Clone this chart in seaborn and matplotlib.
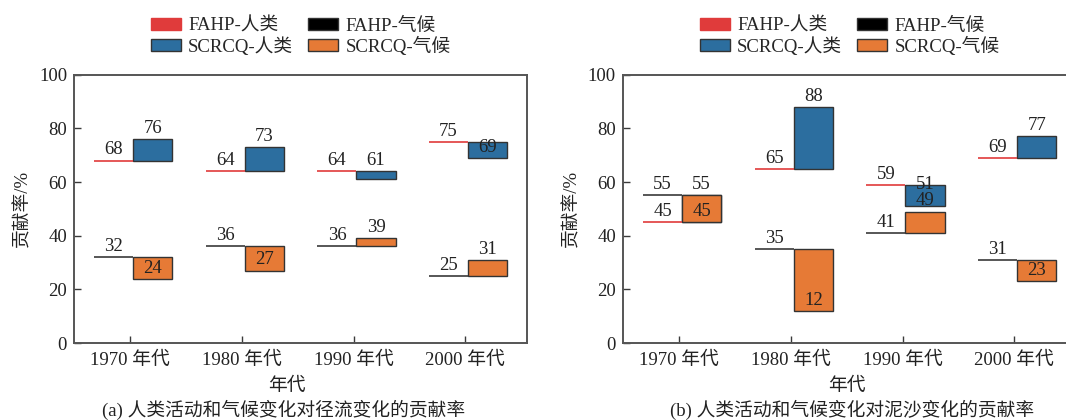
import matplotlib
matplotlib.use("Agg")
import matplotlib.pyplot as plt
from matplotlib.patches import Patch
import seaborn as sns

# ---- data -------------------------------------------------------------
decades = ["1970 年代", "1980 年代", "1990 年代", "2000 年代"]

runoff_fahp_human = [68, 64, 64, 75]
runoff_fahp_climate = [32, 36, 36, 25]
runoff_scrcq_human = [76, 73, 61, 69]
runoff_scrcq_climate = [24, 27, 39, 31]

sediment_fahp_human = [45, 65, 59, 69]
sediment_fahp_climate = [55, 35, 41, 31]
sediment_scrcq_human = [55, 88, 51, 77]
sediment_scrcq_climate = [45, 12, 49, 23]

legend_labels = ["FAHP-人类", "SCRCQ-人类", "FAHP-气候", "SCRCQ-气候"]
y_label = "贡献率/%"
x_label = "年代"
captions = ["(a) 人类活动和气候变化对径流变化的贡献率",
            "(b) 人类活动和气候变化对泥沙变化的贡献率"]

# ---- style ------------------------------------------------------------
sns.set_theme(style="ticks")
plt.rcParams["font.family"] = ["Liberation Serif", "Noto Sans CJK SC", "DejaVu Sans"]
plt.rcParams["axes.unicode_minus"] = False

RED = "#e03b3b"
BLUE = "#2c6e9f"
ORANGE = "#e67a36"
EDGE = "#333333"
DARK = "#3a3a3a"
FS = 13.5

W = 0.35        # width of the FAHP segment and the SCRCQ bar
SHIFT = 0.025   # small shift of each group relative to its tick
MIN_GAP = 6     # minimal vertical distance between stacked labels


def bar_label_y(fahp, scrcq):
    if scrcq >= fahp:
        return scrcq
    if fahp - scrcq < MIN_GAP:
        return fahp
    return scrcq


def draw_panel(ax, fh, fc, sh, sc):
    for i in range(len(decades)):
        c = i + SHIFT
        # FAHP horizontal segments on the left half of the group
        ax.hlines(fh[i], c - W, c, color=RED, lw=1.2, zorder=3)
        ax.hlines(fc[i], c - W, c, color=DARK, lw=1.2, zorder=3)
        # SCRCQ floating bars on the right half, starting from the FAHP value
        ax.bar(c, sh[i] - fh[i], bottom=fh[i], width=W, align="edge",
               color=BLUE, edgecolor=EDGE, linewidth=1.0, zorder=2)
        ax.bar(c, sc[i] - fc[i], bottom=fc[i], width=W, align="edge",
               color=ORANGE, edgecolor=EDGE, linewidth=1.0, zorder=2)

        # value labels
        for v in (fh[i], fc[i]):
            ax.annotate(f"{v}", (c - W / 2, v), xytext=(0, 1.5),
                        textcoords="offset points", ha="center", va="bottom",
                        fontsize=FS, color="#222222", zorder=4)
        ys = [bar_label_y(fh[i], sh[i]), bar_label_y(fc[i], sc[i])]
        vals = [sh[i], sc[i]]
        lo, hi = (0, 1) if ys[0] <= ys[1] else (1, 0)
        if ys[hi] - ys[lo] < MIN_GAP:
            ys[hi] = ys[lo] + MIN_GAP
        for v, y in zip(vals, ys):
            ax.annotate(f"{v}", (c + W / 2, y), xytext=(0, 1.5),
                        textcoords="offset points", ha="center", va="bottom",
                        fontsize=FS, color="#222222", zorder=4)

    ax.set_xlim(-0.505, 3.555)
    ax.set_ylim(0, 100)
    ax.set_yticks(range(0, 101, 20))
    ax.set_xticks(range(len(decades)))
    ax.set_xticklabels(decades)
    ax.tick_params(axis="both", direction="in", length=5, width=1.0,
                   color=DARK, labelsize=FS, labelcolor="#222222")
    ax.tick_params(axis="x", pad=6)
    ax.tick_params(axis="y", pad=5)
    for s in ax.spines.values():
        s.set_color("#555555")
        s.set_linewidth(1.4)
    ax.set_ylabel(y_label, fontsize=FS, color="#222222")
    ax.set_xlabel(x_label, fontsize=FS, color="#222222")

    handles = [Patch(facecolor=RED, edgecolor=RED),
               Patch(facecolor=BLUE, edgecolor=EDGE),
               Patch(facecolor="black", edgecolor=EDGE),
               Patch(facecolor=ORANGE, edgecolor=EDGE)]
    ax.legend(handles, legend_labels, ncol=2, loc="lower center",
              bbox_to_anchor=(0.5, 1.035), frameon=False, fontsize=FS,
              handlelength=1.6, handleheight=0.6, handletextpad=0.4,
              labelspacing=0.1, columnspacing=0.8, borderpad=0.0)


fig = plt.figure(figsize=(10.66, 4.2), dpi=100)
ax_a = fig.add_axes([0.0694, 0.1833, 0.4253, 0.6388])
ax_b = fig.add_axes([0.5844, 0.1833, 0.4253, 0.6388])

draw_panel(ax_a, runoff_fahp_human, runoff_fahp_climate,
           runoff_scrcq_human, runoff_scrcq_climate)
draw_panel(ax_b, sediment_fahp_human, sediment_fahp_climate,
           sediment_scrcq_human, sediment_scrcq_climate)

ax_a.yaxis.set_label_coords(-0.093, 0.5)
ax_b.yaxis.set_label_coords(-0.093, 0.5)
ax_a.xaxis.set_label_coords(0.47, -0.13)
ax_b.xaxis.set_label_coords(0.494, -0.13)

fig.text(0.2664, 0.024, captions[0], ha="center", va="center",
         fontsize=FS, color="#222222")
fig.text(0.799, 0.024, captions[1], ha="center", va="center",
         fontsize=FS, color="#222222")

fig.savefig("out.png", dpi=100)
